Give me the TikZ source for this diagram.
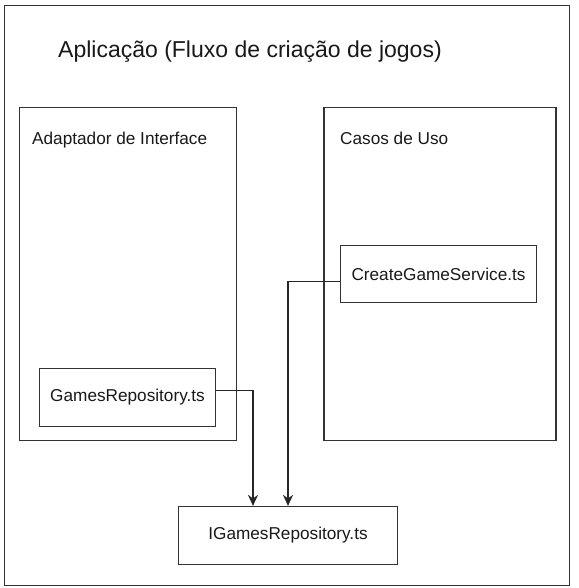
\documentclass[tikz,border=0pt]{standalone}
\usepackage{fontspec}
\setmainfont{Liberation Sans}
\usetikzlibrary{arrows.meta}
\begin{document}
\begin{tikzpicture}[x=1pt,y=-1pt,
  box/.style={draw=black!80,line width=1.2pt,fill=white,inner sep=0pt},
  lbl/.style={font=\fontsize{17.2}{20}\selectfont,text=black!90},
  conn/.style={draw=black!85,line width=1.2pt,-{Stealth[length=11pt,width=10pt,inset=3.5pt]}}]
\useasboundingbox (0,0) rectangle (578,588);
\draw[box] (4.5,5.5) rectangle (569.5,585.5);
\node[lbl,anchor=base west,inner sep=0pt,font=\fontsize{23}{27}\selectfont] (title) at (58,57.5) {Aplicação (Fluxo de criação de jogos)};
\draw[box] (19.5,107.5) rectangle (236.5,440.5);
\node[lbl,anchor=base west,inner sep=0pt] (adapt) at (32,144.5) {Adaptador de Interface};
\draw[box] (324,107.5) rectangle (556,440.5);
\node[lbl,anchor=base west,inner sep=0pt] (casos) at (340,144.5) {Casos de Uso};
\node[box,lbl,minimum width=196pt,minimum height=57pt] (cgs) at (438.5,274) {CreateGameService.ts};
\node[box,lbl,minimum width=176pt,minimum height=58pt] (gr) at (127.5,397.5) {GamesRepository.ts};
\node[box,lbl,minimum width=219pt,minimum height=58pt] (igr) at (288,535.5) {IGamesRepository.ts};
\coordinate (c1) at (253,390.5);
\coordinate (c2) at (288,281.5);
\draw[conn] (gr.east |- c1) -| (c1 |- igr.north);
\draw[conn] (cgs.west |- c2) -| (c2 |- igr.north);
\end{tikzpicture}
\end{document}
